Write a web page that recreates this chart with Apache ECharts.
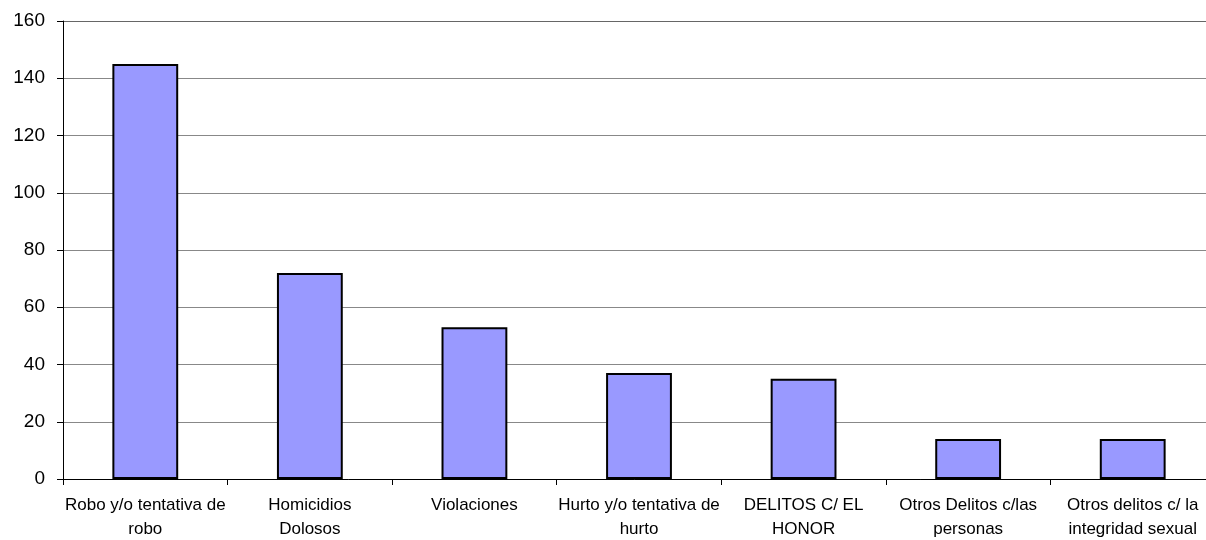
<!DOCTYPE html>
<html>
<head>
<meta charset="utf-8">
<script src="https://cdn.jsdelivr.net/npm/echarts@6/dist/echarts.min.js"></script>
<style>
html,body{margin:0;padding:0;background:#fff;overflow:hidden;}
#chart{width:1206px;height:540px;}
</style>
</head>
<body>
<div id="chart"></div>
<script>
const categories = [
  "Robo y/o tentativa de\nrobo",
  "Homicidios\nDolosos",
  "Violaciones",
  "Hurto y/o tentativa de\nhurto",
  "DELITOS C/ EL\nHONOR",
  "Otros Delitos c/las\npersonas",
  "Otros delitos c/ la\nintegridad sexual"
];
const values = [145, 72, 53, 37, 35, 14, 14];
const yTicks = { min: 0, max: 160, interval: 20 };

const chart = echarts.init(document.getElementById('chart'), null, {renderer: 'canvas'});
chart.setOption({
  animation: false,
  backgroundColor: '#ffffff',
  grid: { left: 63, width: 1152, top: 21, height: 458, containLabel: false, outerBoundsMode: 'none' },
  xAxis: {
    type: 'category',
    data: categories,
    axisLine: { show: true, lineStyle: { color: '#000', width: 1 } },
    axisTick: { show: true, alignWithLabel: false, length: 6, lineStyle: { color: '#000' } },
    axisLabel: {
      interval: 0,
      color: '#000',
      fontFamily: 'Liberation Sans, Arial, sans-serif',
      fontSize: 17,
      lineHeight: 24,
      margin: 14
    },
    splitLine: { show: false }
  },
  yAxis: {
    type: 'value',
    min: yTicks.min,
    max: yTicks.max,
    interval: yTicks.interval,
    axisLine: { show: true, lineStyle: { color: '#000', width: 1 } },
    axisTick: { show: true, length: 6, lineStyle: { color: '#000' } },
    axisLabel: {
      color: '#000',
      fontFamily: 'Liberation Sans, Arial, sans-serif',
      fontSize: 19,
      margin: 18
    },
    splitLine: { show: true, lineStyle: { color: ['#888','#888','#888','#888','#888','#888','#888','#888','#666'], width: 1 } }
  },
  series: [{
    type: 'bar',
    data: values,
    barWidth: '40%',
    itemStyle: { color: '#9999FF', borderColor: '#000', borderWidth: 2 }
  }]
});
</script>
</body>
</html>
